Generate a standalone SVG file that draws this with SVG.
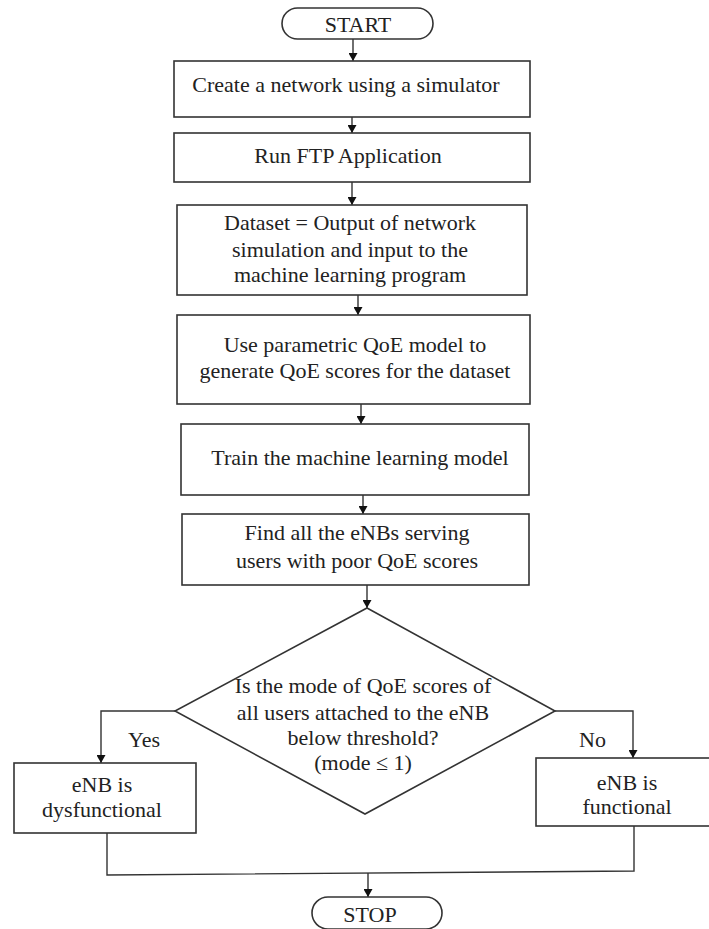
<svg xmlns="http://www.w3.org/2000/svg" width="709" height="929" viewBox="0 0 709 929" font-family="Liberation Serif, Times New Roman, serif">
<defs>
<marker id="ah" viewBox="0 0 8 9" refX="8" refY="4.5" markerWidth="8" markerHeight="9" markerUnits="userSpaceOnUse" orient="auto">
<path d="M0,0 L8,4.5 L0,9 Z" fill="#111"/>
</marker>
</defs>
<style>
.box{fill:#fff;stroke:#333;stroke-width:1.6}
.ln{fill:none;stroke:#333;stroke-width:1.4}
text{font-family:"Liberation Serif","Times New Roman",serif}
.t{font-size:22px;fill:#222;text-anchor:middle}
.l{font-size:22px;fill:#222}
</style>
<rect width="709" height="929" fill="#fff"/>
<g id="connectors">
<line class="ln" x1="353" y1="39" x2="353" y2="61" marker-end="url(#ah)"/>
<line class="ln" x1="352" y1="117" x2="352" y2="133" marker-end="url(#ah)"/>
<line class="ln" x1="352" y1="182" x2="352" y2="205" marker-end="url(#ah)"/>
<line class="ln" x1="358" y1="295" x2="358" y2="315" marker-end="url(#ah)"/>
<line class="ln" x1="361" y1="404" x2="361" y2="424" marker-end="url(#ah)"/>
<line class="ln" x1="363" y1="495" x2="363" y2="514" marker-end="url(#ah)"/>
<line class="ln" x1="367" y1="585" x2="367" y2="608" marker-end="url(#ah)"/>
<polyline class="ln" points="175,711 101,711 101,763" marker-end="url(#ah)"/>
<polyline class="ln" points="555,711 633,711 633,758" marker-end="url(#ah)"/>
<polyline class="ln" points="107,833 107,875 634,871 634,826"/>
<line class="ln" x1="368" y1="873" x2="368" y2="897" marker-end="url(#ah)"/>
<text class="l" x="128" y="747">Yes</text>
<text class="l" x="579" y="747">No</text>
</g>
<g id="start">
<rect class="box" x="282" y="8" width="151" height="31" rx="15.5"/>
<text class="t" x="358" y="32">START</text>
</g>
<g id="create">
<rect class="box" x="174" y="61" width="356" height="56"/>
<text class="t" x="346" y="92">Create a network using a simulator</text>
</g>
<g id="run">
<rect class="box" x="174" y="133" width="356" height="49"/>
<text class="t" x="348" y="163">Run FTP Application</text>
</g>
<g id="dataset">
<rect class="box" x="177" y="205" width="350" height="90"/>
<text class="t" x="350" y="230">Dataset = Output of network</text>
<text class="t" x="350" y="257">simulation and input to the</text>
<text class="t" x="350" y="282">machine learning program</text>
</g>
<g id="qoe">
<rect class="box" x="177" y="315" width="353" height="89"/>
<text class="t" x="355" y="352">Use parametric QoE model to</text>
<text class="t" x="355" y="378">generate QoE scores for the dataset</text>
</g>
<g id="train">
<rect class="box" x="181" y="424" width="348" height="71"/>
<text class="t" x="360" y="465">Train the machine learning model</text>
</g>
<g id="find">
<rect class="box" x="182" y="514" width="347" height="71"/>
<text class="t" x="357" y="540">Find all the eNBs serving</text>
<text class="t" x="357" y="568">users with poor QoE scores</text>
</g>
<g id="decision">
<polygon class="box" points="367,608 555,711 365,814 175,711"/>
<text class="t" x="363" y="693">Is the mode of QoE scores of</text>
<text class="t" x="363" y="720">all users attached to the eNB</text>
<text class="t" x="363" y="745">below threshold?</text>
<text class="t" x="363" y="770">(mode ≤ 1)</text>
</g>
<g id="dysfunctional">
<rect class="box" x="14" y="763" width="182" height="70"/>
<text class="t" x="102" y="792">eNB is</text>
<text class="t" x="102" y="817">dysfunctional</text>
</g>
<g id="functional">
<rect class="box" x="536" y="758" width="180" height="68"/>
<text class="t" x="627" y="790">eNB is</text>
<text class="t" x="627" y="814">functional</text>
</g>
<g id="stop">
<rect class="box" x="312" y="897" width="130" height="32" rx="16"/>
<text class="t" x="370" y="922">STOP</text>
</g>
</svg>
